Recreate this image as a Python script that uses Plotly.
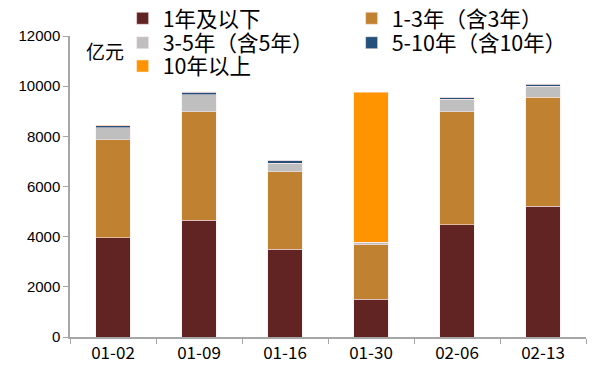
import plotly.graph_objects as go

categories = ["01-02", "01-09", "01-16", "01-30", "02-06", "02-13"]
series_names = ["1年及以下", "1-3年（含3年）", "3-5年（含5年）", "5-10年（含10年）", "10年以上"]
v_le1 = [3960, 4650, 3490, 1510, 4470, 5220]
v_1_3 = [3900, 4330, 3100, 2160, 4510, 4330]
v_3_5 = [490, 670, 340, 100, 500, 450]
v_5_10 = [70, 110, 110, 10, 70, 70]
v_10p = [20, 20, 10, 5980, 10, 30]
colors = ["#622423", "#C08130", "#BFBFBF", "#24507A", "#FF9400"]
legend_rows = ["legend", "legend", "legend2", "legend2", "legend3"]
y_ticks = [0, 2000, 4000, 6000, 8000, 10000, 12000]

fig = go.Figure()
for name, vals, col, lg in zip(series_names, [v_le1, v_1_3, v_3_5, v_5_10, v_10p], colors, legend_rows):
    fig.add_trace(go.Bar(
        x=categories, y=vals, name=name, legend=lg,
        marker=dict(color=col, line=dict(width=0.6, color="rgba(255,235,235,0.9)")),
    ))

def row_legend(y):
    return dict(
        orientation="h", x=0.102, xanchor="left", y=y, yanchor="middle",
        entrywidth=184, font=dict(size=21.5, family="Noto Sans CJK SC", color="#000000"),
        traceorder="normal", itemwidth=30, bgcolor="rgba(0,0,0,0)",
    )

fig.update_layout(
    width=588, height=365,
    barmode="stack", bargap=0.6,
    plot_bgcolor="white", paper_bgcolor="white",
    margin=dict(l=62, r=10, t=28, b=36, autoexpand=False),
    font=dict(family="Noto Sans CJK SC", color="#000000"),
    legend=row_legend(1.0588),
    legend2=row_legend(0.9777),
    legend3=row_legend(0.9003),
    annotations=[dict(
        text="亿元", x=0.027, y=0.953, xref="paper", yref="paper",
        xanchor="left", yanchor="middle", showarrow=False,
        font=dict(size=19, family="Noto Sans CJK SC", color="#000000"),
    )],
)
fig.update_xaxes(
    type="category",
    showline=True, linecolor="#A6A6A6", linewidth=1.5,
    ticks="outside", ticklen=5, tickcolor="#A6A6A6", tickson="boundaries",
    tickfont=dict(size=17, family="Noto Sans CJK SC", color="#000000"),
    showgrid=False, zeroline=False,
)
fig.update_yaxes(
    range=[0, 12000], tickvals=y_ticks, ticktext=[str(v) for v in y_ticks],
    showline=True, linecolor="#A6A6A6", linewidth=1.5,
    ticks="outside", ticklen=5, tickcolor="#A6A6A6",
    tickfont=dict(size=15, family="Liberation Sans", color="#000000"),
    showgrid=False, zeroline=False,
)

fig.write_html("out.html")
